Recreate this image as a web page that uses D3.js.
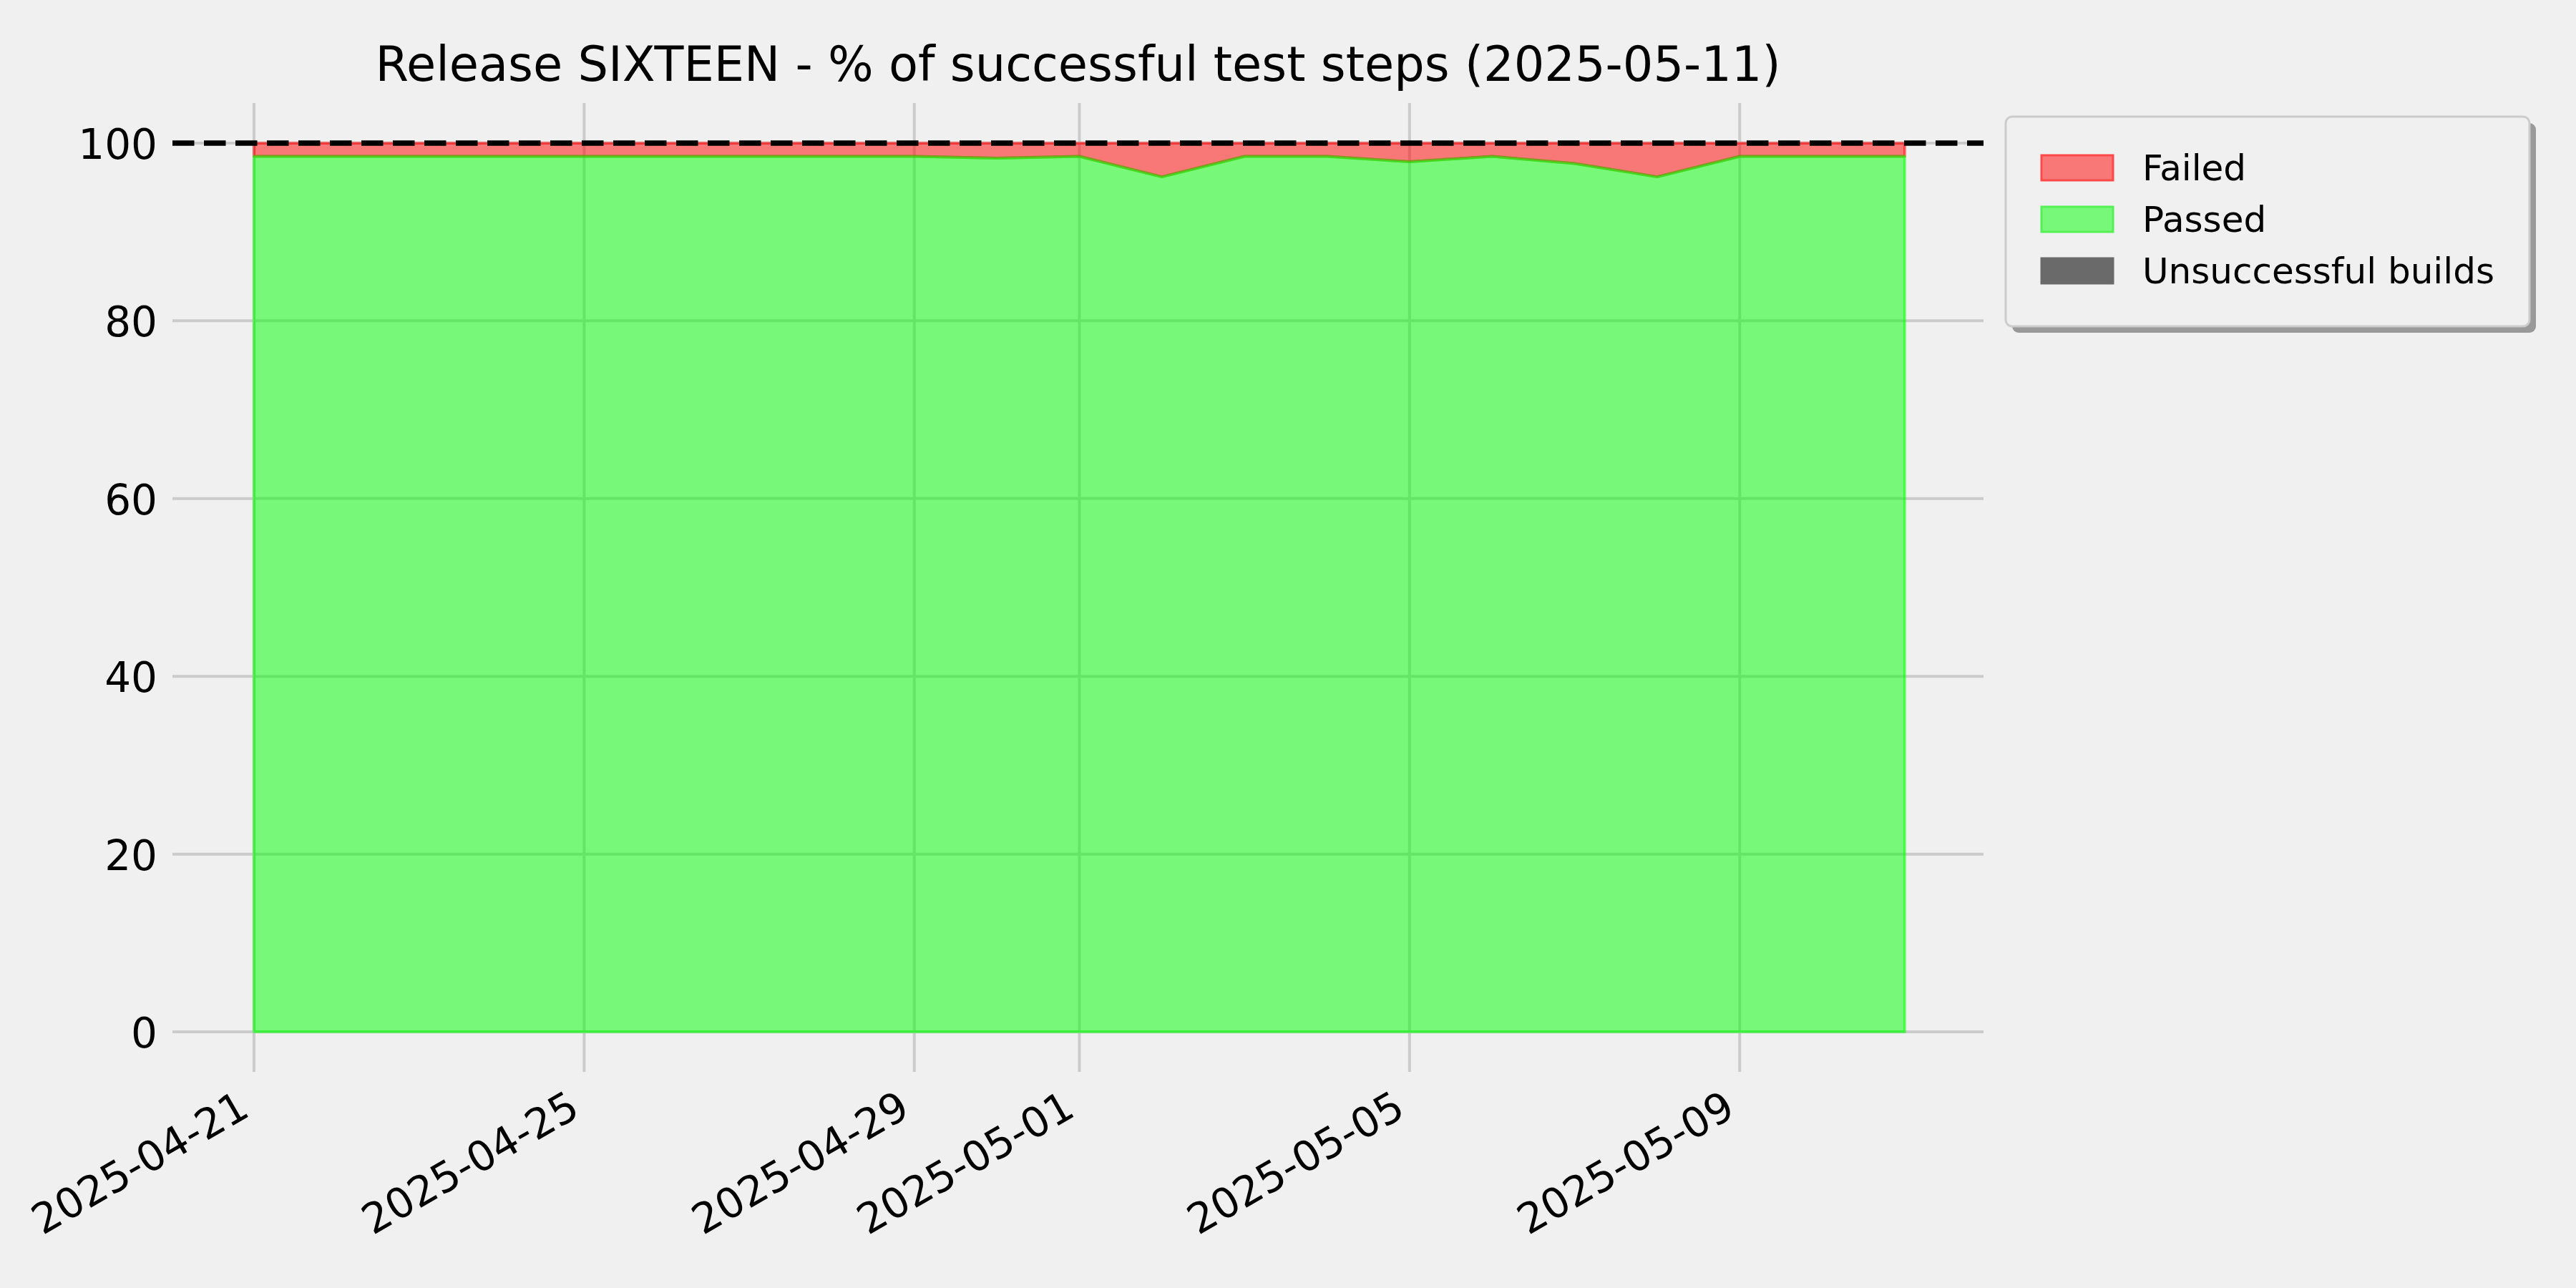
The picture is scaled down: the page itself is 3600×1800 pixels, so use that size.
<!DOCTYPE html>
<html>
<head>
<meta charset="utf-8">
<script src="https://cdn.jsdelivr.net/npm/d3@7"></script>
<style>
  html, body { margin: 0; padding: 0; background: #f0f0f0; }
  svg { display: block; }
  text { font-family: "DejaVu Sans", sans-serif; fill: #000; }
</style>
</head>
<body>
<svg id="chart" width="3600" height="1800"></svg>
<script>
// ---- data ----
const dates = ["2025-04-21","2025-04-22","2025-04-23","2025-04-24","2025-04-25","2025-04-26","2025-04-27",
  "2025-04-28","2025-04-29","2025-04-30","2025-05-01","2025-05-02","2025-05-03","2025-05-04",
  "2025-05-05","2025-05-06","2025-05-07","2025-05-08","2025-05-09","2025-05-10","2025-05-11"];
const passed = [98.5,98.5,98.5,98.5,98.5,98.5,98.5,98.5,98.5,98.3,98.5,96.2,98.5,98.5,97.9,98.5,97.7,96.2,98.5,98.5,98.5];
const failed = [1.5,1.5,1.5,1.5,1.5,1.5,1.5,1.5,1.5,1.7,1.5,3.8,1.5,1.5,2.1,1.5,2.3,3.8,1.5,1.5,1.5];
const unsuccessful = [0,0,0,0,0,0,0,0,0,0,0,0,0,0,0,0,0,0,0,0,0];
const xTickLabels = ["2025-04-21","2025-04-25","2025-04-29","2025-05-01","2025-05-05","2025-05-09"];
const yTicks = [0,20,40,60,80,100];
const seriesNames = ["Passed","Failed","Unsuccessful builds"];
const legendOrder = ["Failed","Passed","Unsuccessful builds"];
const titleText = "Release SIXTEEN - % of successful test steps (2025-05-11)";

// ---- styles ----
const colors = {"Passed": "#00ff00", "Failed": "#ff0000", "Unsuccessful builds": "#6a6a6a"};
const legendFill = {"Passed": "#78f878", "Failed": "#f87878", "Unsuccessful builds": "#6a6a6a"};
const legendEdge = {"Passed": "#55f055", "Failed": "#ff4848", "Unsuccessful builds": "#6a6a6a"};

const svg = d3.select("#chart");
const W = 3600, H = 1800;
svg.append("rect").attr("width", W).attr("height", H).attr("fill", "#f0f0f0");

const parse = d3.utcParse("%Y-%m-%d");
const fmt = d3.utcFormat("%Y-%m-%d");
const rows = dates.map((d, i) => ({
  date: parse(d), "Passed": passed[i], "Failed": failed[i], "Unsuccessful builds": unsuccessful[i]
}));

const plot = {left: 241, right: 2772, top: 144, bottom: 1498};
const DAY = 86400000;
const x = d3.scaleUtc()
  .domain([new Date(parse(dates[0]).getTime() - 0.988 * DAY),
           new Date(parse(dates[dates.length - 1]).getTime() + 0.954 * DAY)])
  .range([plot.left, plot.right]);
const y = d3.scaleLinear().domain([-4.5, 104.5]).range([plot.bottom, plot.top]);

// grid
const g = svg.append("g");
g.selectAll("line.hgrid").data(yTicks).join("line")
  .attr("x1", plot.left).attr("x2", plot.right)
  .attr("y1", d => y(d)).attr("y2", d => y(d))
  .attr("stroke", "#cbcbcb").attr("stroke-width", 4);
g.selectAll("line.vgrid").data(xTickLabels.map(parse)).join("line")
  .attr("x1", d => x(d)).attr("x2", d => x(d))
  .attr("y1", plot.top).attr("y2", plot.bottom)
  .attr("stroke", "#cbcbcb").attr("stroke-width", 4);

// stacked areas
const stack = d3.stack().keys(seriesNames);
const layers = stack(rows);
const area = d3.area()
  .x(d => x(d.data.date))
  .y0(d => y(d[0]))
  .y1(d => y(d[1]));

const drawOrder = ["Failed", "Passed", "Unsuccessful builds"];
drawOrder.forEach(name => {
  const layer = layers.find(l => l.key === name);
  const p = svg.append("path").datum(layer)
    .attr("d", area)
    .attr("fill", colors[name])
    .attr("fill-opacity", name === "Unsuccessful builds" ? 1 : 0.5);
  if (name !== "Unsuccessful builds") {
    p.attr("stroke", colors[name]).attr("stroke-opacity", 0.5)
     .attr("stroke-width", 4).attr("stroke-linejoin", "round");
  } else {
    p.attr("stroke", "none");
  }
});

// dashed 100% line
svg.append("line")
  .attr("x1", plot.left).attr("x2", plot.right)
  .attr("y1", y(100)).attr("y2", y(100))
  .attr("stroke", "#000").attr("stroke-width", 7.5)
  .attr("stroke-dasharray", "30.5,13.5");

// y axis labels
const yAxis = d3.axisLeft(y).tickValues(yTicks).tickSize(0).tickPadding(0);
const ya = svg.append("g").attr("transform", `translate(${plot.left - 21},0)`).call(yAxis);
ya.select(".domain").remove();
ya.selectAll("text")
  .attr("font-size", 58).attr("font-family", "DejaVu Sans, sans-serif")
  .attr("fill", "#000").attr("dy", "0.37em").attr("x", 0);

// x axis labels
const xAxis = d3.axisBottom(x).tickValues(xTickLabels.map(parse)).tickFormat(fmt).tickSize(0).tickPadding(0);
const xa = svg.append("g").attr("transform", `translate(0,${plot.bottom})`).call(xAxis);
xa.select(".domain").remove();
xa.selectAll("text")
  .attr("font-size", 58).attr("font-family", "DejaVu Sans, sans-serif")
  .attr("fill", "#000")
  .attr("text-anchor", "end")
  .attr("y", 0).attr("dy", 0)
  .attr("transform", "translate(-4,60) rotate(-30)");

// title
svg.append("text")
  .attr("x", (plot.left + plot.right) / 2).attr("y", 113)
  .attr("text-anchor", "middle")
  .attr("font-size", 67)
  .text(titleText);

// legend
const lg = svg.append("g");
const box = {x: 2803, y: 163, w: 732, h: 293};
lg.append("rect")
  .attr("x", box.x + 9).attr("y", box.y + 9).attr("width", box.w).attr("height", box.h)
  .attr("rx", 9).attr("fill", "#999999");
lg.append("rect")
  .attr("x", box.x).attr("y", box.y).attr("width", box.w).attr("height", box.h)
  .attr("rx", 9).attr("fill", "#f0f0f0").attr("stroke", "#cccccc").attr("stroke-width", 3);
legendOrder.forEach((name, i) => {
  const baseY = 252 + i * 72;
  lg.append("rect")
    .attr("x", 2853).attr("y", baseY - 35).attr("width", 100).attr("height", 35)
    .attr("fill", legendFill[name]).attr("stroke", legendEdge[name]).attr("stroke-width", 3);
  lg.append("text")
    .attr("x", 2994).attr("y", baseY)
    .attr("font-size", 50)
    .text(name);
});
</script>
</body>
</html>
